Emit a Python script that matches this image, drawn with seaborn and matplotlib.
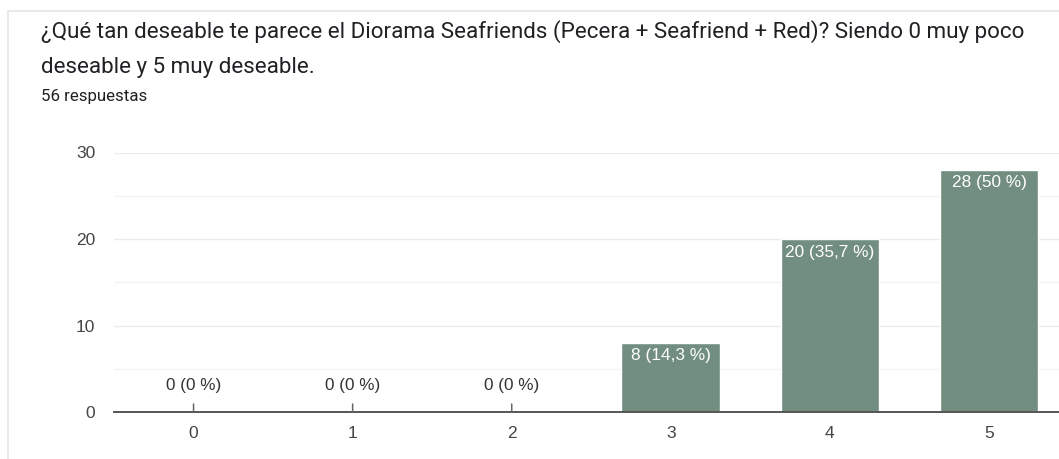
import matplotlib
matplotlib.use("Agg")
import matplotlib.pyplot as plt
import seaborn as sns
import pandas as pd
from matplotlib.patches import Rectangle

# Survey results
categories = ["0", "1", "2", "3", "4", "5"]
counts = [0, 0, 0, 8, 20, 28]
labels = ["0 (0 %)", "0 (0 %)", "0 (0 %)", "8 (14,3 %)", "20 (35,7 %)", "28 (50 %)"]
yticks = [0, 10, 20, 30]

title_lines = ["¿Qué tan deseable te parece el Diorama Seafriends (Pecera + Seafriend + Red)? Siendo 0 muy poco",
               "deseable y 5 muy deseable."]
subtitle = "56 respuestas"

BAR = "#728e80"
sns.set_theme(style="white")
plt.rcParams["font.family"] = ["Liberation Sans", "DejaVu Sans"]

fig = plt.figure(figsize=(10.59, 4.59), dpi=100)
fig.patch.set_facecolor("white")

# card outline
fig.patches.append(Rectangle((8 / 1059, -0.1), 1.2, (459 - 11) / 459 + 0.1,
                             transform=fig.transFigure, fill=False,
                             edgecolor="#e6e6e6", linewidth=1.2))

for k, line in enumerate(title_lines):
    fig.text(41 / 1059, 1 - (38 + 35 * k) / 459, line, family="Roboto", fontsize=16.1,
             color="#202124", va="baseline", ha="left")
fig.text(41 / 1059, 1 - 101 / 459, subtitle, family="Roboto", fontsize=12.2,
         color="#202124", va="baseline", ha="left")

ax = fig.add_axes([114 / 1059, (459 - 412) / 459, 1 - 114 / 1059, (412 - 152.5) / 459])
df = pd.DataFrame({"cat": categories, "n": counts})
sns.barplot(data=df, x="cat", y="n", order=categories, color=BAR, width=0.62,
            saturation=1, ax=ax, zorder=3)

ax.set_xlim(-0.5, 5.44)
ax.set_ylim(0, 30)
ax.set_yticks(yticks)
ax.set_yticks([5, 15, 25], minor=True)
ax.grid(axis="y", which="major", color="#ebebeb", linewidth=1.0, zorder=0)
ax.grid(axis="y", which="minor", color="#f4f4f4", linewidth=1.0, zorder=0)
ax.set_axisbelow(True)
for s in ["top", "right", "left"]:
    ax.spines[s].set_visible(False)
ax.spines["bottom"].set_color("#555555")
ax.spines["bottom"].set_linewidth(1.4)
ax.spines["bottom"].set_zorder(5)
ax.set_xlabel("")
ax.set_ylabel("")
ax.tick_params(axis="both", which="both", length=0, labelsize=12.5, colors="#444444")
ax.tick_params(axis="y", pad=13.5)
ax.tick_params(axis="x", pad=10)

for i, (v, lab) in enumerate(zip(counts, labels)):
    if v > 0:
        ax.annotate(lab, xy=(i, v), xytext=(0, -4), textcoords="offset points",
                    ha="center", va="top", color="white", fontsize=12.4, zorder=6)
    else:
        ax.annotate(lab, xy=(i, 0), xytext=(0, 19), textcoords="offset points",
                    ha="center", va="center", color="#333333", fontsize=12.3,
                    arrowprops=dict(arrowstyle="-", color="#666666", lw=1.1,
                                    shrinkA=5.5, shrinkB=0), zorder=6)

fig.savefig("out.png", dpi=100)
